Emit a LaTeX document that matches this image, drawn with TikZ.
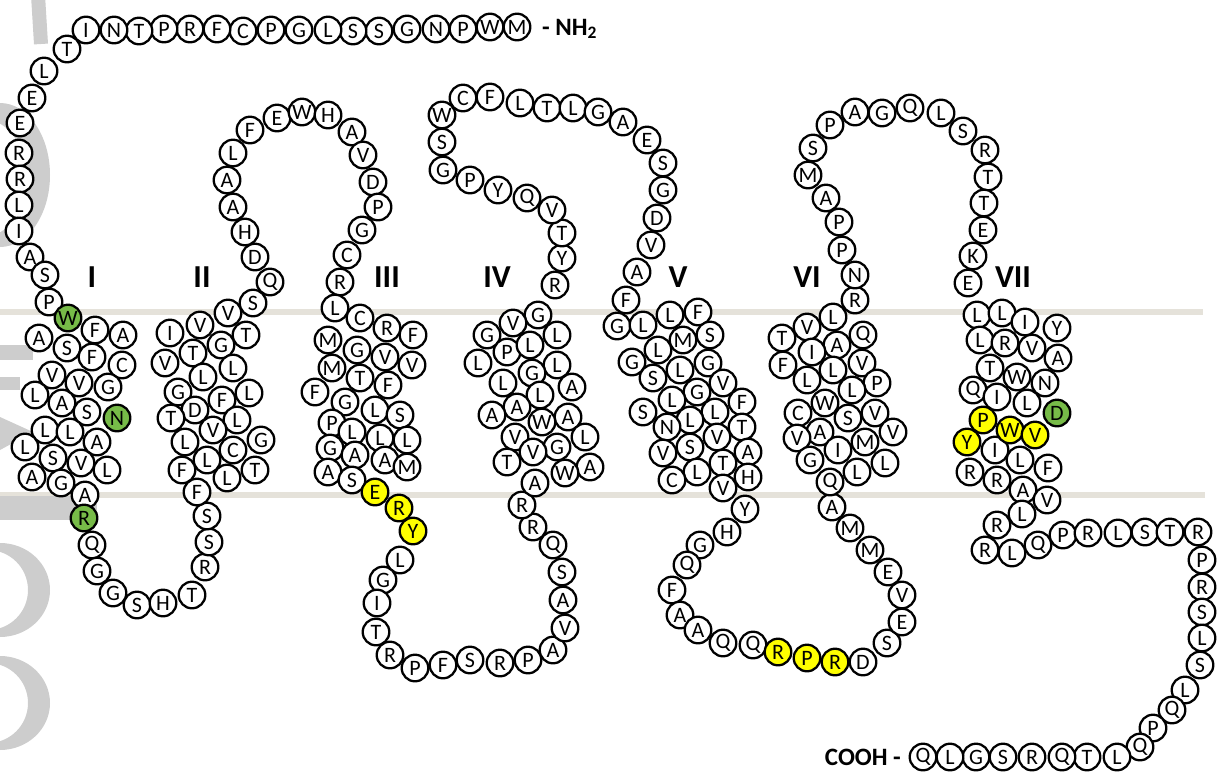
\documentclass[tikz,border=0pt]{standalone}
\usepackage{fontspec}
\setmainfont{Carlito}
\definecolor{bandc}{RGB}{229,226,218}
\definecolor{wmc}{RGB}{205,205,205}
\definecolor{grn}{RGB}{119,187,72}
\definecolor{ylw}{RGB}{255,255,0}
\tikzset{
 res/.style={circle,draw=black,line width=1.15pt,fill=white,minimum size=13.3pt,inner sep=0pt,font=\fontsize{11}{11}\selectfont},
 gres/.style={res,fill=grn},
 yres/.style={res,fill=ylw},
 tmlabel/.style={font=\bfseries\fontsize{16}{16}\selectfont},
 termlabel/.style={font=\bfseries\fontsize{12.5}{12.5}\selectfont},
 band/.style={fill=bandc},
 wm/.style={fill=wmc}
}
\begin{document}
\begin{tikzpicture}[x=0.5pt,y=-0.5pt]
\useasboundingbox (0,0) rectangle (1217,772);
% membrane
\fill[band] (0,309) rectangle (1203,315);
\fill[band] (0,492) rectangle (1205,498);
% watermark (partial, cut by the left edge)
\draw[wmc,line width=7pt] (38,-5) -- (41,44);
\fill[wm,even odd rule] (0,175) ellipse [x radius=50,y radius=72] (-14,178) ellipse [x radius=40,y radius=58];
\fill[wm] (0,345) rectangle (33,360);
\fill[wm] (0,377) rectangle (20,390);
\fill[wm] (0,417) -- (33,432) -- (0,450) -- cycle;
\fill[wm,even odd rule] (0,590) ellipse [x radius=50,y radius=47] (-12,590) ellipse [x radius=40,y radius=40];
\fill[wm,even odd rule] (0,703) ellipse [x radius=50,y radius=47] (-12,703) ellipse [x radius=40,y radius=40];
\fill[wm] (0,496) rectangle (97,520);
% N-terminus
\foreach \px/\py/\pl [count=\i] in {517/27/M,490/27/W,463/29/P,436/29/N,407/29/G,379/31/S,353/31/S,328/30/L,299/30/G,271/30/P,243/31/C,217/29/F,190/29/R,164/29/P,139/31/T,114/30/N,86/30/I,67/49/T,44/71/L,32/98/E,20/123/E,19/153/R,20/179/R,19/205/L,19/231/I,30/257/A,45/275/S,49/302/P}
  \node[res] (nt\i) at (\px,\py) {\pl};
% TM1
\foreach \px/\py/\pl [count=\i] in {39/338/A,67/348/S,95/330/F,123/335/A,92/357/F,122/365/C,52/375/V,79/383/V,108/387/G,35/395/L,62/403/A,87/412/S,45/430/L,70/432/L,97/442/A,25/447/L,53/458/S,81/463/V,107/470/L,32/477/A,61/483/G,85/495/A}
  \node[res] (ha\i) at (\px,\py) {\pl};
\node[gres] (gW) at (68,318) {W};
\node[gres] (gN) at (117,418) {N};
\node[gres] (gR) at (84,518) {R};
% ICL1
\foreach \px/\py/\pl [count=\i] in {92/545/Q,97/571/G,113/593/G,137/605/S,163/603/H,192/595/T,205/567/R,209/542/S,207/516/S,197/492/F}
  \node[res] (ia\i) at (\px,\py) {\pl};
% TM2
\foreach \px/\py/\pl [count=\i] in {170/333/I,200/325/V,228/313/V,253/303/S,246/335/T,221/345/G,165/363/V,193/353/T,233/368/L,203/377/L,178/392/G,249/393/L,222/400/F,195/410/D,171/418/T,237/420/L,213/430/V,261/440/G,185/442/L,233/450/C,207/460/L,255/470/T,182/470/F,227/478/L}
  \node[res] (hb\i) at (\px,\py) {\pl};
% ECL1
\foreach \px/\py/\pl [count=\i] in {270/282/Q,255/257/D,245/232/H,233/207/A,227/180/A,233/153/L,250/130/F,277/118/E,302/112/W,328/115/H,352/132/A,363/155/V,373/182/D,378/207/P,362/230/G,347/255/C,340/282/R}
  \node[res] (ea\i) at (\px,\py) {\pl};
% TM3
\foreach \px/\py/\pl [count=\i] in {335/308/L,360/318/C,387/328/R,413/335/F,328/340/M,357/350/G,385/357/V,412/365/V,332/368/M,360/378/T,388/385/F,315/392/F,345/402/G,375/410/L,400/415/S,332/423/P,352/432/L,380/438/L,407/440/L,330/448/G,355/455/A,385/460/A,407/467/M,328/472/A,352/480/S}
  \node[res] (hc\i) at (\px,\py) {\pl};
\node[yres] (yE) at (375,492) {E};
\node[yres] (yR) at (399,508) {R};
\node[yres] (yY) at (413,531) {Y};
% ICL2
\foreach \px/\py/\pl [count=\i] in {400/560/L,383/580/G,377/603/I,376/632/T,390/655/R,415/668/P,443/665/F,470/660/S,500/663/R,528/660/P,553/650/A,565/628/V,563/600/A,562/572/S,553/545/Q,533/527/R,522/505/R,535/483/A}
  \node[res] (ib\i) at (\px,\py) {\pl};
% TM4
\foreach \px/\py/\pl [count=\i] in {538/315/G,513/323/V,487/335/G,557/335/L,507/352/P,530/345/L,478/363/L,557/365/L,532/373/G,503/383/L,572/387/A,540/395/L,517/407/A,492/415/A,568/417/A,542/422/W,585/437/L,515/437/V,557/447/G,533/452/V,507/462/T,590/467/A,565/473/W}
  \node[res] (hd\i) at (\px,\py) {\pl};
% ECL2
\foreach \px/\py/\pl [count=\i] in {555/285/R,562/258/Y,562/233/T,552/210/V,527/198/Q,498/190/Y,470/180/P,443/170/G,442/142/S,442/115/W,463/98/C,490/97/F,520/103/L,547/108/T,573/108/L,598/112/G,623/122/A,647/140/E,663/163/S,663/190/G,657/218/D,651/245/V,637/272/A,626/300/F}
  \node[res] (eb\i) at (\px,\py) {\pl};
% TM5
\foreach \px/\py/\pl [count=\i] in {617/326/G,643/325/L,670/315/L,698/312/F,710/335/S,683/340/M,658/350/L,632/362/G,708/363/G,680/370/L,653/378/S,723/383/V,697/392/G,672/400/L,742/402/F,643/412/S,715/412/L,690/420/L,667/427/N,742/427/T,717/437/V,690/447/S,663/453/V,748/452/A,723/463/T,697/472/L,672/480/C,748/477/H,723/488/V}
  \node[res] (he\i) at (\px,\py) {\pl};
% ICL3
\foreach \px/\py/\pl [count=\i] in {745/509/Y,727/532/H,700/545/G,687/565/Q,672/590/F,680/615/A,698/630/A,723/643/Q,753/645/Q,863/662/D,887/643/S,902/622/E,902/595/V,888/572/E,870/550/M,850/528/M,832/507/A,830/482/Q}
  \node[res] (ic\i) at (\px,\py) {\pl};
\node[yres] (yR2) at (778,652) {R};
\node[yres] (yP2) at (807,658) {P};
\node[yres] (yR3) at (835,662) {R};
% TM6
\foreach \px/\py/\pl [count=\i] in {833/317/L,807/327/V,782/338/T,863/335/Q,837/345/A,812/352/I,783/365/F,862/363/V,833/370/L,877/383/P,807/380/L,852/390/L,825/403/W,798/413/C,875/413/V,848/418/S,820/432/A,893/432/V,797/438/V,865/442/M,838/450/I,810/460/G,885/463/L,857/472/L}
  \node[res] (hf\i) at (\px,\py) {\pl};
% ECL3
\foreach \px/\py/\pl [count=\i] in {855/300/R,855/275/N,842/250/P,839/222/P,826/198/A,808/175/M,813/148/S,830/125/P,855/112/A,882/113/G,910/108/Q,941/113/L,963/131/S,985/150/R,988/177/T,984/203/T,983/230/E,973/256/K,968/283/E}
  \node[res] (ec\i) at (\px,\py) {\pl};
% TM7
\foreach \px/\py/\pl [count=\i] in {977/315/L,1002/313/L,1025/322/I,1057/328/Y,980/340/L,1005/343/R,1032/348/V,1058/358/A,990/368/T,1017/377/W,1045/383/N,973/390/Q,997/397/I,1027/403/L,995/450/I,1020/460/L,1048/468/F,970/472/R,997/480/R,1023/490/A,1047/500/V}
  \node[res] (hg\i) at (\px,\py) {\pl};
\node[gres] (gD) at (1057,413) {D};
\node[yres] (yP) at (983,420) {P};
\node[yres] (yW) at (1010,430) {W};
\node[yres] (yV) at (1035,435) {V};
\node[yres] (yY2) at (967,442) {Y};
% C-terminus
\foreach \px/\py/\pl [count=\i] in {1022/514/L,997/525/R,985/550/R,1012/553/L,1038/545/Q,1063/535/P,1088/533/R,1118/533/L,1145/532/S,1170/532/T,1198/532/R,1202/560/P,1202/587/R,1202/612/S,1202/638/L,1200/665/S,1185/690/L,1172/710/Q,1153/728/P,1140/747/Q,1117/757/L,1087/757/T,1062/757/Q,1032/757/R,1003/757/S,976/757/G,950/757/L,923/757/Q}
  \node[res] (ct\i) at (\px,\py) {\pl};
% labels
\node[tmlabel] (L1) at (92,277) {I};
\node[tmlabel] (L2) at (202,277) {II};
\node[tmlabel] (L3) at (387,277) {III};
\node[tmlabel] (L4) at (497,277) {IV};
\node[tmlabel] (L5) at (678,277) {V};
\node[tmlabel] (L6) at (807,277) {VI};
\node[tmlabel] (L7) at (1013,277) {VII};
\node[termlabel,anchor=west] (nh2) at (535,29) {- NH\textsubscript{2}};
\node[termlabel,anchor=east] (cooh) at (908,757) {COOH -};
\end{tikzpicture}
\end{document}
